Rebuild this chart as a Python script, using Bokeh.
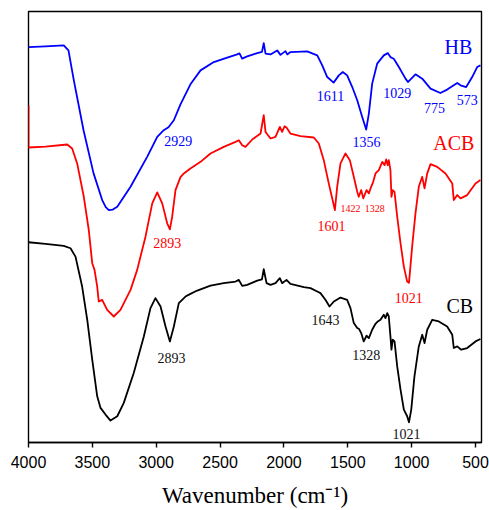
from bokeh.plotting import figure
from bokeh.models import Range1d, FixedTicker, Label
from bokeh.embed import file_html
from bokeh.resources import INLINE

# ---------------- data (wavenumber, transmittance in arbitrary offset units) ----------------
hb_wn = [4000, 3867, 3724, 3687, 3645, 3569, 3491, 3423, 3395, 3371, 3340, 3305, 3201, 3071, 2992, 2941, 2904,
         2862, 2810, 2732, 2653, 2549, 2444, 2366, 2348, 2327, 2288, 2209, 2172, 2158, 2144, 2105,
         2053, 2027, 1988, 1974, 1949, 1818, 1739, 1700, 1661, 1611, 1570, 1539, 1505, 1465, 1426,
         1387, 1356, 1335, 1309, 1270, 1218, 1187, 1166, 1140, 1100, 1048, 1029, 970, 917, 852,
         775, 722, 643, 617, 573, 526, 487, 461]
hb_t = [396.3, 397, 398, 393, 363, 313, 270, 243, 236, 233, 233.5, 236.3, 256.3, 286.3, 306.3, 313, 316,
        323, 339, 359, 373, 381.3, 385.7, 389, 390, 384.7, 387, 390.3, 391.5, 400.3, 389.7, 389,
        393, 388.5, 392.3, 389, 391.3, 392, 388, 378, 366.3, 360.7, 368, 371.3, 368, 356.3, 343,
        326.3, 313.7, 329.7, 359.7, 379.7, 388, 390.3, 386.3, 384.7, 376.3, 364.7, 361.3, 369, 364.7, 354.7,
        350.3, 353.7, 360.3, 358, 356.3, 366.3, 376.3, 378]

acb_wn = [4000, 4000, 3867, 3697, 3658, 3619, 3567, 3528, 3501, 3483, 3462, 3450, 3423, 3384, 3332,
          3280, 3201, 3149, 3084, 3031, 2992, 2953, 2914, 2893, 2875, 2849, 2810, 2784, 2732, 2653,
          2575, 2471, 2379, 2353, 2327, 2301, 2248, 2183, 2158, 2144, 2105, 2066, 2032, 2014, 1995,
          1980, 1949, 1870, 1766, 1727, 1688, 1649, 1601, 1583, 1557, 1518, 1484, 1453, 1426, 1414,
          1395, 1379, 1353, 1335, 1317, 1301, 1283, 1257, 1230, 1212, 1199, 1187, 1179, 1166, 1158,
          1148, 1134, 1113, 1087, 1061, 1035, 1021, 1014, 996, 970, 944, 917, 899, 878, 852,
          800, 735, 682, 670, 643, 617, 565, 500, 461]
acb_t = [338, 295.7, 296.5, 298.7, 294.7, 279.7, 246.3, 213, 179.7, 173, 156.3, 141.3, 143, 133, 126.3,
         133, 153, 173, 206.3, 239.7, 250.7, 239.7, 219.7, 213.7, 226.3, 253, 266, 269.7, 274.7, 281.3,
         289.7, 296.3, 301.3, 303, 298, 296.3, 303.7, 309.7, 328, 311.3, 304.7, 306.3, 316.3, 311.3, 317,
         315.7, 309.7, 307, 305.7, 299.7, 283, 259.7, 233, 256.3, 279.7, 289.7, 283, 266.3, 251.3, 246.3,
         253, 244.7, 253, 249.7, 256.3, 261.3, 269.7, 273, 281.3, 278, 283.7, 278, 283, 273, 246.3,
         253, 251.3, 226.3, 199.7, 176.3, 161.3, 160, 169.7, 196.3, 229.7, 256.3, 266.3, 254.7, 269.7, 279,
         276.3, 269.7, 259.7, 243, 248, 244.7, 248, 259.7, 263]

cb_wn = [4000, 3867, 3724, 3671, 3632, 3580, 3540, 3501, 3462, 3436, 3397, 3358, 3305, 3254, 3176,
         3097, 3045, 3006, 2966, 2927, 2893, 2862, 2823, 2771, 2732, 2679, 2575, 2471, 2379, 2353,
         2327, 2288, 2209, 2172, 2158, 2136, 2105, 2066, 2032, 2014, 1980, 1949, 1844, 1792, 1739,
         1714, 1675, 1643, 1609, 1557, 1505, 1479, 1453, 1426, 1411, 1395, 1375, 1353, 1335, 1309,
         1283, 1265, 1244, 1218, 1205, 1191, 1179, 1166, 1158, 1148, 1134, 1113, 1087, 1061, 1035,
         1021, 1003, 978, 944, 917, 899, 878, 839, 787, 722, 682, 670, 643, 612, 565, 500, 461]
cb_t = [200.7, 199, 197, 194.7, 186.3, 156.3, 123, 83, 46.3, 34.7, 28, 22, 26.3, 39.7, 69.7,
        106.3, 134.7, 144.7, 136.3, 116.3, 101.3, 116.3, 139.7, 146.3, 149, 152.3, 157.3, 159.7, 161.3, 163,
        157, 158, 162.3, 163.5, 173.7, 159.7, 158, 159.7, 164.7, 159.7, 163, 159, 155.7, 154.7, 151.3,
        149.7, 143, 136.3, 141.3, 145.3, 143, 134.7, 119.7, 114.7, 113.7, 109.7, 101.3, 107, 104.7, 113,
        119, 121.3, 123, 128, 124.7, 129.7, 126.3, 106.3, 93, 103, 101.3, 76.3, 53, 33, 26.3,
        20.3, 33, 66.3, 96.3, 108, 99.7, 113, 123, 121.3, 116.3, 108, 94.7, 96.3, 93, 94.7, 101.3, 103.7]

x_ticks = [4000, 3500, 3000, 2500, 2000, 1500, 1000, 500]

# annotation texts
hb_texts = ["HB", "1611", "1029", "775", "573", "2929", "1356"]
acb_texts = ["ACB", "2893", "1601", "1021", "CB"]
acb_small_texts = ["1422", "1328"]
cb_texts = ["1643", "2893", "1328", "1021"]

# ---------------- layout (label positions) ----------------
hb_pos = [(633, 396.3, "20px"), (1635, 347.3, "14px"), (1113, 350.7, "14px"), (821, 335.7, "14px"),
          (565, 343.7, "14px"), (2828, 302.3, "14px"), (1353, 301.3, "14px")]
acb_pos = [(670, 299.7, "20px"), (2914, 200.3, "14px"), (1627, 217.0, "14px"), (1022, 145.3, "14px"),
           (623, 137.3, "20px")]
acb_small_pos = [(1479, 234.7), (1288, 234.7)]
cb_pos = [(1675, 122.3), (2880, 84.7), (1356, 88.0), (1040, 8.7)]

BLUE = "#0000ff"
RED = "#ff0000"
BLACK = "#000000"
SERIF = "Liberation Serif"

p = figure(width=489, height=510, output_backend="svg", toolbar_location=None,
           x_range=Range1d(4000, 453), y_range=Range1d(0, 432),
           min_border_left=28, min_border_right=8, min_border_top=11, min_border_bottom=67)

p.line(hb_wn, hb_t, line_color=BLUE, line_width=1.8, line_join="round")
p.line(acb_wn, acb_t, line_color=RED, line_width=1.8, line_join="round")
p.line(cb_wn, cb_t, line_color=BLACK, line_width=1.8, line_join="round")

def add_labels(texts, pos, color, default_size="14px"):
    for t, ps in zip(texts, pos):
        size = ps[2] if len(ps) > 2 else default_size
        p.add_layout(Label(x=ps[0], y=ps[1], text=t, text_align="center", text_baseline="middle",
                           text_font=SERIF, text_font_size=size, text_color=color))

add_labels(hb_texts, hb_pos, BLUE)
add_labels(acb_texts[:4], acb_pos[:4], RED)
add_labels(acb_texts[4:], acb_pos[4:], BLACK)
add_labels(acb_small_texts, acb_small_pos, RED, "10px")
add_labels(cb_texts, cb_pos, "#111111")

p.grid.visible = False
p.yaxis.visible = False
p.outline_line_color = "black"
p.outline_line_width = 1.4
p.outline_line_alpha = 1.0
p.background_fill_color = "white"
p.border_fill_color = "white"

ax = p.xaxis[0]
ax.ticker = FixedTicker(ticks=x_ticks)
ax.axis_line_color = "black"
ax.axis_line_width = 1.4
ax.major_tick_out = 5
ax.major_tick_in = 0
ax.major_tick_line_width = 1.4
ax.minor_tick_out = 0
ax.minor_tick_in = 0
ax.major_label_text_font = "Liberation Sans"
ax.major_label_text_font_size = "16px"
ax.major_label_text_color = "black"
ax.major_label_standoff = 8
ax.axis_label = "Wavenumber (cm\u207b\u00b9)"
ax.axis_label_text_font = SERIF
ax.axis_label_text_font_size = "23px"
ax.axis_label_text_font_style = "normal"
ax.axis_label_text_color = "black"
ax.axis_label_standoff = 12

open("out.html", "w").write(file_html(p, INLINE))
